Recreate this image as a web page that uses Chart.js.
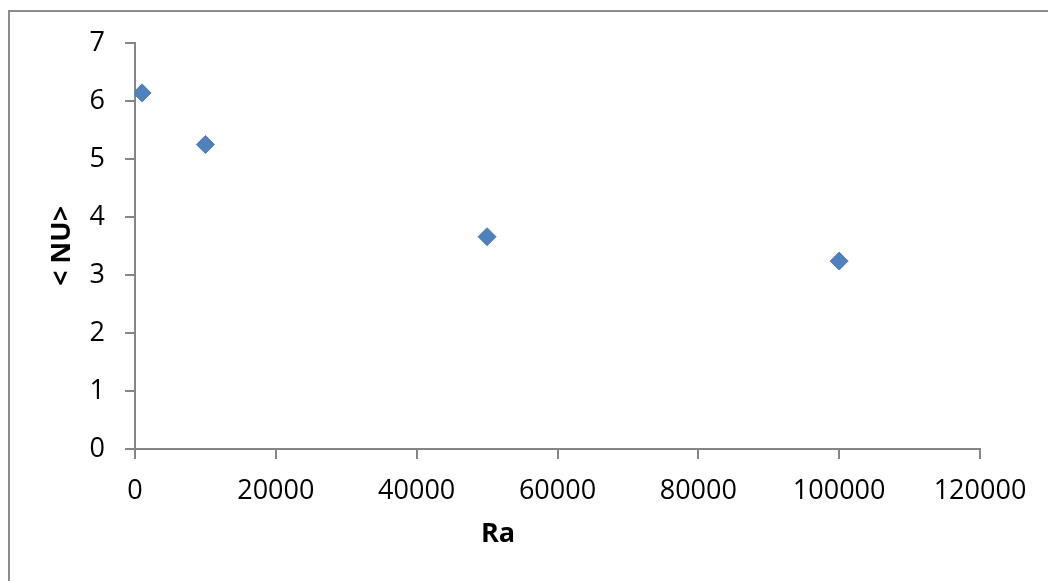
<!DOCTYPE html>
<html lang="en">
<head>
    <meta charset="UTF-8">
    <title>Nu vs Ra</title>
    <script src="https://cdn.jsdelivr.net/npm/chart.js"></script>
    <style>
        body {
            margin: 0;
            padding: 0;
            background-color: #fff;
        }
        canvas {
            display: block;
        }
    </style>
</head>
<body>
    <canvas id="graph" width="1048" height="581"></canvas>

    <script>
        // values
        const raValues = [1000, 10000, 50000, 100000];
        const nuValues = [6.14, 5.25, 3.66, 3.24];
        const xTitle = 'Ra';
        const yTitle = '< NU>';

        const axisGray = '#868686';
        const tickFont = { family: 'Open Sans', size: 27 };
        const titleFont = { family: 'Open Sans', size: 27, weight: 'bold', lineHeight: 1 };

        // grey outer frame (left and top edge only are visible) + x title,
        // which Excel put left of the plot centre
        const framePlugin = {
            id: 'frame',
            beforeDraw(chart) {
                const c = chart.ctx;
                c.save();
                c.strokeStyle = '#8c8c8c';
                c.lineWidth = 2;
                c.beginPath();
                c.moveTo(9, 581);
                c.lineTo(9, 11);
                c.lineTo(1048, 11);
                c.stroke();
                c.restore();
            },
            afterDraw(chart) {
                const c = chart.ctx;
                c.save();
                c.fillStyle = '#000';
                c.font = 'bold 27px "Open Sans"';
                c.textAlign = 'center';
                c.textBaseline = 'middle';
                c.fillText(xTitle, 498, 534);
                c.restore();
            }
        };

        const ctx = document.getElementById('graph').getContext('2d');
        const chart = new Chart(ctx, {
            type: 'scatter',
            data: {
                datasets: [{
                    data: raValues.map((x, i) => ({ x: x, y: nuValues[i] })),
                    backgroundColor: '#4f81bd',
                    borderColor: '#4a7ebb',
                    borderWidth: 1,
                    pointStyle: 'rectRot',
                    pointRadius: 9,
                    pointHoverRadius: 9
                }]
            },
            options: {
                responsive: false,
                animation: false,
                layout: {
                    padding: { top: 43, right: 68, bottom: 0, left: 0 }
                },
                plugins: {
                    legend: { display: false },
                    tooltip: { enabled: false }
                },
                scales: {
                    x: {
                        type: 'linear',
                        min: 0,
                        max: 120000,
                        afterFit: s => { s.height = 132; },
                        border: { display: true, color: axisGray, width: 2 },
                        grid: { drawOnChartArea: false, drawTicks: true, tickLength: 10, color: axisGray, lineWidth: 2 },
                        ticks: { stepSize: 20000, color: '#000', font: tickFont, padding: 16, maxRotation: 0,
                                 callback: v => String(v) }
                    },
                    y: {
                        min: 0,
                        max: 7,
                        afterFit: s => { s.width = 135; },
                        border: { display: true, color: axisGray, width: 2 },
                        grid: { drawOnChartArea: false, drawTicks: true, tickLength: 10, color: axisGray, lineWidth: 2 },
                        ticks: { stepSize: 1, color: '#000', font: tickFont, padding: 20 },
                        title: { display: true, text: yTitle, color: '#000', font: titleFont, padding: { top: 49, bottom: 0 } }
                    }
                }
            },
            plugins: [framePlugin]
        });
    </script>
</body>
</html>
